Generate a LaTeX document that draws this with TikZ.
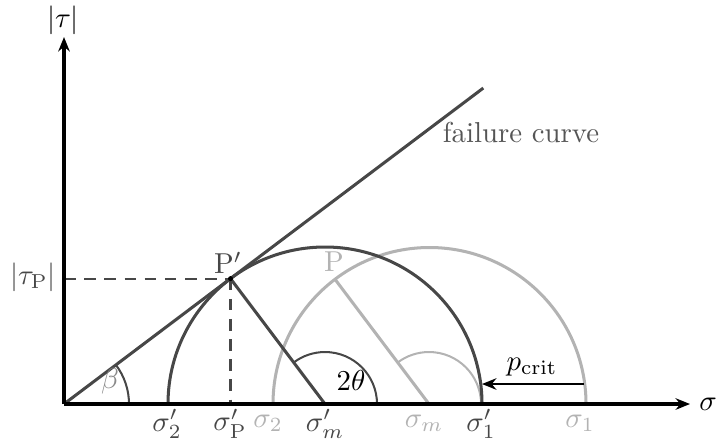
\documentclass[tikz,border=0pt]{standalone}
\usetikzlibrary{arrows.meta,calc}
\definecolor{darkg}{HTML}{474747}
\definecolor{lightg}{HTML}{B3B3B3}
\definecolor{textg}{HTML}{555555}
\definecolor{midg}{HTML}{8A8A8A}
\tikzset{
  axis/.style={line width=1.35pt,-{Stealth[length=5pt,width=4pt]}},
  darkcurve/.style={line width=1.05pt,draw=darkg},
  lightcurve/.style={line width=1.05pt,draw=lightg},
  thinarc/.style={line width=0.7pt},
  helper/.style={line width=0.75pt,draw=darkg,dash pattern=on 4pt off 3pt},
  dlab/.style={text=darkg,inner sep=1pt},
  llab/.style={text=lightg,inner sep=1pt}
}
\begin{document}
\begin{tikzpicture}[x=0.347pt,y=0.347pt]
\useasboundingbox (0,0) rectangle (716,441);
\coordinate (O) at (64,37);
\coordinate (cmd) at (325,37);
\coordinate (cml) at (429,37);
\coordinate (Pd) at ($(cmd)+(127:157)$);
\coordinate (Pl) at ($(cml)+(127:157)$);
\coordinate (fend) at ($(O)+(37:525)$);
\coordinate (xend) at (690,37);
\coordinate (yend) at (64,404);
\coordinate (Pdy) at (O |- Pd);
\coordinate (Pdx) at (Pd |- O);
\coordinate (pa) at (584,57);
\coordinate (pb) at (482,57);
% light circle
\draw[lightcurve] (273,37) arc[start angle=180,end angle=0,radius=156.5];
\draw[lightcurve] (cml) -- (Pl);
\draw[lightg,thinarc] ($(cml)+(52,0)$) arc[start angle=0,end angle=127,radius=52];
% dark circle
\draw[darkcurve] ($(cmd)+(-157,0)$) arc[start angle=180,end angle=0,radius=157];
\draw[darkcurve] (cmd) -- (Pd);
\draw[darkg,thinarc] ($(cmd)+(52,0)$) arc[start angle=0,end angle=127,radius=52];
% failure line
\draw[darkcurve] (O) -- (fend);
\draw[darkg,thinarc] ($(O)+(65,0)$) arc[start angle=0,end angle=37,radius=65];
% dashed helpers
\draw[helper] (Pdy) -- (Pd);
\draw[helper] (Pd) -- (Pdx);
\fill (Pd) circle[radius=2.5];
% axes
\draw[axis] (O) -- (xend);
\draw[axis] (O) -- (yend);
% p_crit arrow
\draw[line width=0.8pt,-{Stealth[length=5pt,width=4pt]}] (pa) -- (pb);
% labels
\node[inner sep=0pt] (tau) at (63,421) {$|\tau|$};
\node (sig) at (708,37) {$\sigma$};
\node[dlab] (tauP) at (33,164) {$|\tau_{\mathrm{P}}|$};
\node[dlab] (s2d) at (167,17) {$\sigma_2'$};
\node[dlab] (sPd) at (230,17) {$\sigma_{\mathrm{P}}'$};
\node[llab] (s2l) at (268,18) {$\sigma_2$};
\node[dlab] (smd) at (325,17) {$\sigma_m'$};
\node[llab] (sml) at (424,18) {$\sigma_m$};
\node[dlab] (s1d) at (481,17) {$\sigma_1'$};
\node[llab] (s1l) at (580,18) {$\sigma_1$};
\node[dlab] (Pdl) at (228,178) {$\mathrm{P}'$};
\node[llab] (Pll) at (334,179) {$\mathrm{P}$};
\node[text=midg,inner sep=1pt] (beta) at (110,60) {$\beta$};
\node (tt) at (351,61) {$2\theta$};
\node (pc) at (532,74) {$p_{\mathrm{crit}}$};
\node[text=textg] (fc) at (521,309) {failure curve};
\end{tikzpicture}
\end{document}
